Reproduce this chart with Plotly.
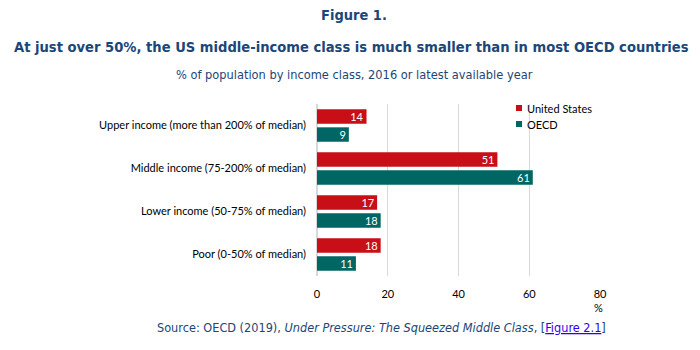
import plotly.graph_objects as go

categories = ["Upper income (more than 200% of median)",
              "Middle income (75-200% of median)",
              "Lower income (50-75% of median)",
              "Poor (0-50% of median)"]
us_values = [14, 51, 17, 18]
oecd_values = [9, 61, 18, 11]
series_names = ["United States", "OECD"]
tick_vals = [0, 20, 40, 60, 80]

RED = "#C80F18"
TEAL = "#006663"
TITLE = "#1B4677"
LABEL_FONT = "Lato, Carlito, 'Open Sans', sans-serif"
HEAD_FONT = "'Liberation Sans Narrow', 'Arial Narrow', 'DejaVu Sans Condensed', 'Liberation Sans', Arial, sans-serif"

W, H = 700, 350
L, R, T, B = 317, 100, 104, 74

fig = go.Figure()
for name, vals, col in [(series_names[0], us_values, RED), (series_names[1], oecd_values, TEAL)]:
    fig.add_trace(go.Bar(
        y=categories, x=vals, name=name, orientation="h",
        marker=dict(color=col, line=dict(width=0)),
        text=[str(v) for v in vals], textposition="inside", insidetextanchor="end",
        textangle=0, constraintext="none",
        textfont=dict(color="white", size=11, family=LABEL_FONT),
        showlegend=False, hoverinfo="x+name",
    ))

fig.update_layout(
    width=W, height=H,
    margin=dict(l=L, r=R, t=T, b=B, pad=0),
    paper_bgcolor="white", plot_bgcolor="white",
    barmode="group", bargap=0.16, bargroupgap=0.2,
    showlegend=False,
    uniformtext=dict(minsize=11, mode="show"),
    xaxis=dict(range=[0, 80], tickvals=tick_vals, showgrid=True, gridcolor="#D9D9D9",
               gridwidth=1, zeroline=True, zerolinecolor="#D9D9D9", showline=False,
               ticks="", ticklabelstandoff=10,
               tickfont=dict(size=11, color="#000000", family=LABEL_FONT),
               fixedrange=True),
    yaxis=dict(autorange="reversed", showgrid=False, ticks="", ticklabelstandoff=10,
               tickfont=dict(size=11, color="#000000", family=LABEL_FONT), fixedrange=True),
    font=dict(family=LABEL_FONT),
)

pw = W - L - R
ph = H - T - B
def px_x(px):
    return (px - L) / pw
def px_y(py):
    return (H - B - py) / ph

annotations = [
    dict(text="<b>Figure 1.</b>", x=px_x(354), y=px_y(15), xref="paper", yref="paper",
         xanchor="center", yanchor="middle", showarrow=False,
         font=dict(family=HEAD_FONT, size=14.5, color=TITLE)),
    dict(text="<b>At just over 50%, the US middle-income class is much smaller than in most OECD countries</b>",
         x=px_x(351), y=px_y(46), xref="paper", yref="paper", xanchor="center", yanchor="middle",
         showarrow=False,
         font=dict(family=HEAD_FONT, size=14.6, color=TITLE)),
    dict(text="% of population by income class, 2016 or latest available year",
         x=px_x(354), y=px_y(75), xref="paper", yref="paper", xanchor="center", yanchor="middle",
         showarrow=False,
         font=dict(family=HEAD_FONT, size=12.7, color=TITLE)),
    dict(text="%", x=px_x(598), y=px_y(307), xref="paper", yref="paper", xanchor="center",
         yanchor="middle", showarrow=False, font=dict(size=11, color="#000000", family=LABEL_FONT)),
    dict(text="Source: OECD (2019), <i>Under Pressure: The Squeezed Middle Class</i>, [<a href=\"#\" style=\"color:#3300EE\"><u>Figure 2.1</u></a>]",
         x=px_x(381), y=px_y(327), xref="paper", yref="paper", xanchor="center", yanchor="middle",
         showarrow=False,
         font=dict(family=HEAD_FONT, size=12.6, color=TITLE)),
]
# legend built from text + squares
for i, (name, col) in enumerate(zip(series_names, [RED, TEAL])):
    cy = 108 + i * 16
    annotations.append(dict(text=name, x=px_x(525), y=px_y(cy), xref="paper", yref="paper",
                            xanchor="left", yanchor="middle", showarrow=False,
                            font=dict(size=11, color="#000000", family=LABEL_FONT)))
    fig.add_shape(type="rect", xref="paper", yref="paper",
                  x0=px_x(516), x1=px_x(522), y0=px_y(cy + 3), y1=px_y(cy - 3),
                  fillcolor=col, line=dict(width=0))

fig.update_layout(annotations=annotations)
fig.write_html("out.html")
